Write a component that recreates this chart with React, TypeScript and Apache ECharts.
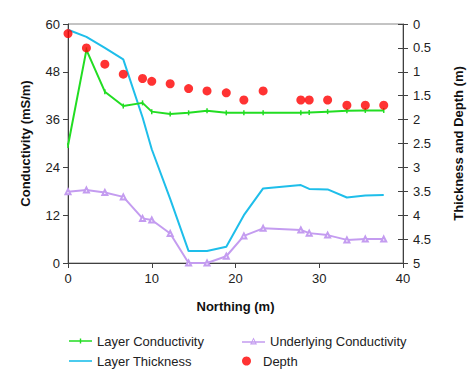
import React, { useEffect, useRef } from "react";
import * as echarts from "echarts";

const northing = [0, 2.2, 4.4, 6.6, 8.9, 10.0, 12.2, 14.4, 16.6, 18.9, 21.0, 23.3, 27.8, 28.8, 31.0, 33.3, 35.5, 37.7];
const layerConductivity = [29.5, 53.5, 43, 39.4, 40.2, 38.0, 37.4, 37.7, 38.2, 37.7, 37.7, 37.7, 37.7, 37.8, 38.0, 38.2, 38.3, 38.3];
const underlyingConductivity = [17.9, 18.3, 17.7, 16.6, 11.2, 10.8, 7.4, 0, 0, 1.7, 6.8, 8.7, 8.3, 7.5, 7.0, 5.8, 6.0, 6.0];
const layerThickness = [0.12, 0.27, 0.5, 0.74, 1.95, 2.62, 3.66, 4.75, 4.75, 4.66, 4.0, 3.44, 3.37, 3.45, 3.46, 3.63, 3.59, 3.58];
const depth = [0.2, 0.5, 0.84, 1.05, 1.14, 1.2, 1.25, 1.35, 1.4, 1.44, 1.59, 1.4, 1.59, 1.59, 1.59, 1.7, 1.7, 1.7];

const pair = (ys: number[]) => ys.map((y, i) => [northing[i], y]);

const FONT = "Liberation Sans, Arial, sans-serif";

export default function App() {
  const ref = useRef<HTMLDivElement>(null);
  useEffect(() => {
    if (!ref.current) return;
    const chart = echarts.init(ref.current, undefined, { renderer: "svg" });
    const axisColor = "#404040";
    const labelStyle = { color: "#222", fontSize: 13, fontFamily: FONT };
    const legendText = { color: "#222", fontSize: 13, fontFamily: FONT, lineHeight: 16 };
    const mkLegend = (name: string, icon: string, left: number, top: number, w: number, h: number) => ({
      data: [{ name, icon }],
      orient: "horizontal",
      left,
      top,
      padding: 0,
      itemWidth: w,
      itemHeight: h,
      textStyle: legendText,
    });
    const greenIcon = "path://M0,2.3H23V3.7H0Z M10.8,0.5H12.2V5.5H10.8Z";
    const cyanIcon = "path://M0,0H23V1.6H0Z";
    const purpleIcon = "path://M0,4.3H23V5.7H0Z M11.5,0.6L15,7.4L8,7.4Z M11.5,2.6L9.7,6.3L13.3,6.3Z";
    chart.setOption({
      animation: false,
      backgroundColor: "#fff",
      textStyle: { fontFamily: FONT },
      grid: { left: 68, right: 71, top: 24, bottom: 114, show: true, borderColor: "#888", borderWidth: 1, backgroundColor: "transparent" },
      legend: [
        mkLegend("Layer Conductivity", greenIcon, 69, 333, 23, 6),
        mkLegend("Layer Thickness", cyanIcon, 69, 353, 23, 2),
        mkLegend("Underlying Conductivity", purpleIcon, 242, 333, 23, 8),
        mkLegend("Depth", "circle", 242, 353, 23, 9),
      ],
      xAxis: {
        type: "value",
        min: 0,
        max: 40,
        interval: 10,
        name: "Northing (m)",
        nameLocation: "middle",
        nameGap: 37,
        nameTextStyle: { fontSize: 13, fontWeight: "bold", color: "#111" },
        axisLine: { lineStyle: { color: axisColor } },
        axisTick: { show: true, length: 5, lineStyle: { color: axisColor } },
        axisLabel: { ...labelStyle, margin: 9 },
        splitLine: { show: false },
      },
      yAxis: [
        {
          type: "value",
          min: 0,
          max: 60,
          interval: 12,
          position: "left",
          name: "Conductivity (mS/m)",
          nameLocation: "middle",
          nameRotate: 90,
          nameGap: 36,
          nameTextStyle: { fontSize: 13, fontWeight: "bold", color: "#111" },
          axisLine: { show: true, lineStyle: { color: axisColor } },
          axisTick: { show: true, length: 5, lineStyle: { color: axisColor } },
          axisLabel: { ...labelStyle, margin: 8 },
          splitLine: { show: false },
        },
        {
          type: "value",
          min: 0,
          max: 5,
          interval: 0.5,
          inverse: true,
          position: "right",
          name: "Thickness and Depth (m)",
          nameLocation: "middle",
          nameRotate: 90,
          nameGap: 49,
          nameTextStyle: { fontSize: 13, fontWeight: "bold", color: "#111" },
          axisLine: { show: true, lineStyle: { color: axisColor } },
          axisTick: { show: true, length: 5, lineStyle: { color: axisColor } },
          axisLabel: { ...labelStyle, margin: 10 },
          splitLine: { show: false },
        },
        {
          type: "value",
          min: 0,
          max: 5,
          interval: 0.5,
          inverse: true,
          position: "right",
          axisLine: { show: false },
          axisTick: { show: true, inside: true, length: 5, lineStyle: { color: axisColor } },
          axisLabel: { show: false },
          splitLine: { show: false },
        },
      ],
      series: [
        {
          name: "Layer Conductivity",
          type: "line",
          yAxisIndex: 0,
          data: pair(layerConductivity),
          symbol: "rect",
          symbolSize: [1.5, 5],
          itemStyle: { color: "#22dd22" },
          lineStyle: { color: "#22dd22", width: 2 },
          z: 4,
        },
        {
          name: "Underlying Conductivity",
          type: "line",
          yAxisIndex: 0,
          data: pair(underlyingConductivity),
          symbol: "emptyTriangle",
          symbolSize: 5,
          itemStyle: { color: "#c49cf0", borderWidth: 1 },
          lineStyle: { color: "#c49cf0", width: 2 },
          z: 3,
        },
        {
          name: "Layer Thickness",
          type: "line",
          yAxisIndex: 1,
          data: pair(layerThickness),
          symbol: "none",
          itemStyle: { color: "#1ebeea" },
          lineStyle: { color: "#1ebeea", width: 2 },
          z: 2,
        },
        {
          name: "Depth",
          type: "scatter",
          yAxisIndex: 1,
          data: pair(depth),
          symbol: "circle",
          symbolSize: 9,
          itemStyle: { color: "#ff0000" },
          z: 5,
        },
      ],
    });
    return () => chart.dispose();
  }, []);
  return <div ref={ref} style={{ position: "fixed", left: 0, top: 0, width: 474, height: 377 }} />;
}
